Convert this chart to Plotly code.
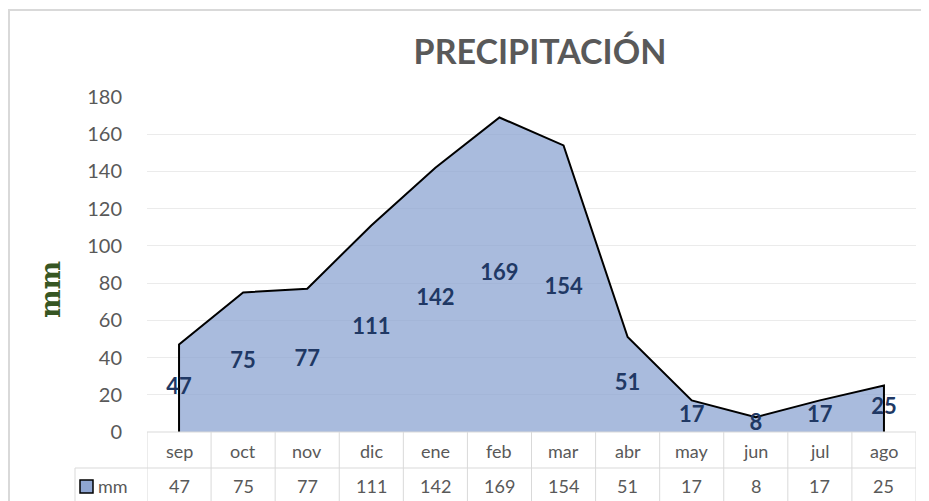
import plotly.graph_objects as go

# Monthly rainfall
months = ['sep', 'oct', 'nov', 'dic', 'ene', 'feb', 'mar', 'abr', 'may', 'jun', 'jul', 'ago']
mm = [47, 75, 77, 111, 142, 169, 154, 51, 17, 8, 17, 25]
series_name = 'mm'

grey_text = '#595959'
grid = '#D9D9D9'
fnt = 'Lato'

fig = go.Figure()

# filled area (slightly see-through so gridlines show like in Excel)
fig.add_trace(go.Scatter(x=months, y=mm, mode='lines', fill='tozeroy',
                         fillcolor='rgba(140,164,209,0.75)', line=dict(width=0), hoverinfo='skip'))
# outline, dropping to zero at both ends
fig.add_trace(go.Scatter(x=[months[0]] + months + [months[-1]], y=[0] + mm + [0],
                         mode='lines', line=dict(color='black', width=2), hoverinfo='skip'))
# data labels at mid height like Excel does for area charts
fig.add_trace(go.Scatter(x=months, y=[v / 2 for v in mm], mode='text',
                         text=[str(v) for v in mm],
                         textfont=dict(family=fnt, size=22, color='#203864', weight='bold'),
                         hoverinfo='skip'))

# page pixel -> paper helpers (plot area 147..916 x, 97..432 y on the page)
def px(x):
    return (x - 147) / 769

def py(y):
    return (432 - y) / 335

shapes = []
# outer chart border
shapes.append(dict(type='rect', xref='paper', yref='paper', x0=px(9), x1=1.1,
                   y0=py(520), y1=py(10), line=dict(color=grid, width=2), layer='below'))
# data table grid
for i in range(len(months) + 1):
    shapes.append(dict(type='line', xref='x', yref='paper', x0=i - 0.5, x1=i - 0.5,
                       y0=py(510), y1=0, line=dict(color=grid, width=1)))
shapes.append(dict(type='line', xref='paper', yref='paper', x0=0, x1=1, y0=0, y1=0,
                   line=dict(color=grid, width=1)))
shapes.append(dict(type='line', xref='paper', yref='paper', x0=px(75), x1=1, y0=py(468), y1=py(468),
                   line=dict(color=grid, width=1)))
shapes.append(dict(type='line', xref='paper', yref='paper', x0=px(75), x1=px(75), y0=py(510), y1=py(468),
                   line=dict(color=grid, width=1)))
# legend key
shapes.append(dict(type='rect', xref='paper', yref='paper', x0=px(80), x1=px(93), y0=py(493), y1=py(480),
                   fillcolor='#8EA5D2', line=dict(color='black', width=1.5)))

annotations = []
for m, v in zip(months, mm):
    annotations.append(dict(x=m, xref='x', y=py(451), yref='paper', text=m, showarrow=False,
                            yanchor='middle',
                            font=dict(family=fnt, size=18, color=grey_text)))
    annotations.append(dict(x=m, xref='x', y=py(486), yref='paper', text=str(v), showarrow=False,
                            yanchor='middle',
                            font=dict(family=fnt, size=18, color=grey_text)))
annotations.append(dict(x=px(96), xref='paper', y=py(486), yref='paper', text=series_name,
                        showarrow=False, xanchor='left', yanchor='middle',
                        font=dict(family=fnt, size=18, color=grey_text)))
# y axis title
annotations.append(dict(x=px(50), xref='paper', y=py(290), yref='paper', text='<b>mm</b>',
                        showarrow=False, textangle=-90, xanchor='center', yanchor='middle',
                        font=dict(family='DejaVu Serif', size=27, color='#375623')))

fig.update_layout(
    width=921, height=493,
    margin=dict(l=139, r=13, t=89, b=69),
    paper_bgcolor='white', plot_bgcolor='white',
    showlegend=False,
    title=dict(text='<b>PRECIPITACIÓN</b>', xref='paper', x=px(540), xanchor='center',
               y=1 - 44 / 493, yanchor='middle',
               font=dict(family=fnt, size=34, color=grey_text)),
    xaxis=dict(type='category', range=[-0.5, 11.5], showticklabels=False, showgrid=False,
               zeroline=False, showline=False),
    yaxis=dict(range=[0, 180], dtick=20, gridcolor='#EBEBEB', gridwidth=1, zeroline=False,
               showline=False, ticklabelstandoff=24,
               tickfont=dict(family=fnt, size=20, color=grey_text)),
    shapes=shapes,
    annotations=annotations,
)

fig.write_html('out.html')
